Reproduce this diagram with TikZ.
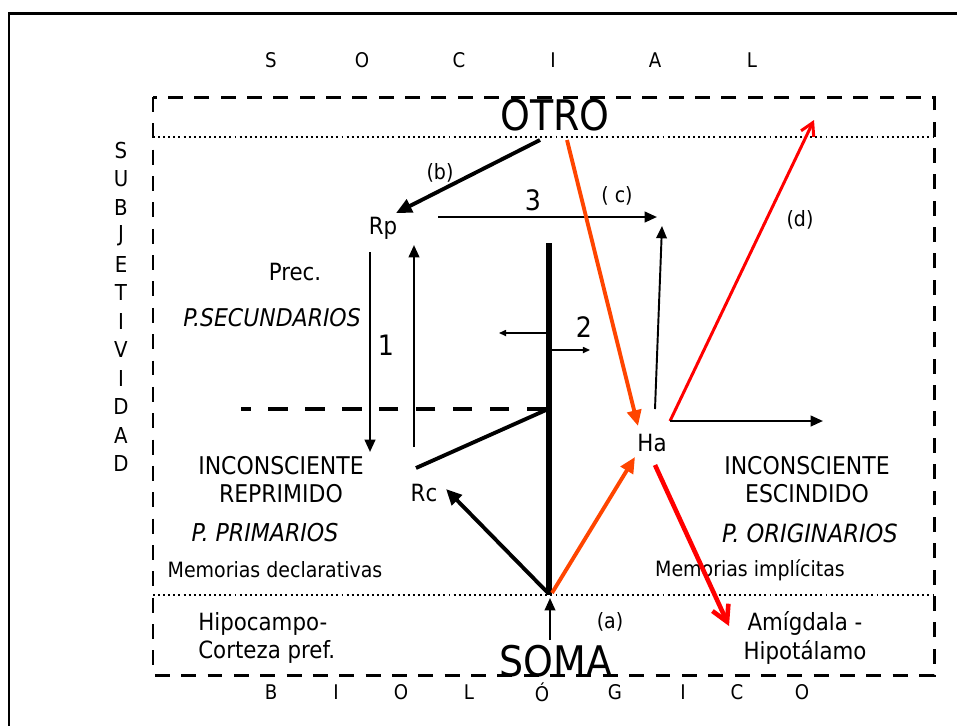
\documentclass[tikz,border=0pt]{standalone}
\usepackage{fontspec}
\setmainfont{DejaVu Sans Condensed}
\usetikzlibrary{arrows.meta}
\definecolor{naranja}{RGB}{255,69,0}
\definecolor{rojo}{RGB}{255,0,0}

\begin{document}
\begin{tikzpicture}[x=0.02cm,y=-0.02cm,
    texto/.style={inner sep=0pt, font=\fontsize{13.9}{16}\selectfont, align=center},
    chico/.style={inner sep=0pt, font=\fontsize{12}{14}\selectfont},
    medio/.style={inner sep=0pt, font=\fontsize{13.5}{16}\selectfont},
    letra/.style={inner sep=0pt, font=\fontsize{11.5}{13}\selectfont},
    grande/.style={inner sep=0pt, font=\fontsize{24}{28}\selectfont},
    numero/.style={inner sep=0pt, font=\fontsize{16}{18}\selectfont},
    flecha/.style={-{Triangle[length=7pt,width=6pt]}, line width=1.3pt},
    gruesa/.style={-{Triangle[length=9pt,width=8pt]}, line width=2.2pt},
    fina/.style={-{Triangle[length=4pt,width=3.5pt]}, line width=0.7pt},
    punteada/.style={line width=1.2pt, dash pattern=on 1.1pt off 1.8pt}]
    \useasboundingbox (0,0) rectangle (957,725);
    % marco exterior
    \draw[line width=1.7pt] (9,727) -- (9,13) -- (960,13);
    % zonas
    \draw[line width=1.7pt, dash pattern=on 8.5pt off 6.5pt] (153,97) rectangle (934,675);
    \draw[punteada] (153,137) -- (934,137);
    \draw[punteada] (153,595) -- (934,595);

    % letras espaciadas
    \foreach \l/\x in {S/271,O/362,C/459,I/553,A/655,L/752}
        \node[letra] (soc\x) at (\x,60) {\l};
    \foreach \l/\x in {B/271,I/336,O/401,L/469,Ó/542,G/615,I/683,C/737,O/802}
        \node[letra] (bio\x) at (\x,692) {\l};
    \foreach \l [count=\i from 0] in {S,U,B,J,E,T,I,V,I,D,A,D}
        \node[letra, font=\fontsize{12.5}{14}\selectfont] (sub\i) at (121,150+28.5*\i) {\l};

    % nodos
    \node[grande] (otro) at (555,115) {OTRO};
    \node[grande] (soma) at (556,661) {SOMA};
    \node[medio] (rp) at (383,228) {Rp};
    \node[medio] (rc) at (424,493) {Rc};
    \node[medio] (ha) at (652,443) {Ha};
    \node[chico] (lb) at (440,173) {(b)};
    \node[chico] (lc) at (617,196) {( c)};
    \node[chico] (ld) at (800,220) {(d)};
    \node[chico] (la) at (610,622) {(a)};
    \node[numero] (n1) at (386,345) {1};
    \node[numero] (n2) at (584,327) {2};
    \node[numero] (n3) at (533,200) {3};
    \node[medio] (prec) at (295,272) {Prec.};
    \node[texto, font=\fontsize{13.9}{16}\itshape] (psec) at (272,318) {P.SECUNDARIOS};
    \node[texto] (increp) at (281,480) {INCONSCIENTE\\REPRIMIDO};
    \node[texto, font=\fontsize{14}{16}\itshape] (pprim) at (265,533) {P. PRIMARIOS};
    \node[chico] (memdec) at (275,570) {Memorias declarativas};
    \node[texto] (incesc) at (807,480) {INCONSCIENTE\\ESCINDIDO};
    \node[texto, font=\fontsize{14.3}{16}\itshape] (porig) at (810,533) {P. ORIGINARIOS};
    \node[chico] (memimp) at (750,570) {Memorias implícitas};
    \node[medio, align=left, anchor=west] (hipo) at (198,638) {Hipocampo-\\Corteza pref.};
    \node[medio, align=center] (amig) at (805,638) {Amígdala -\\Hipotálamo};

    % extremos de las flechas
    \coordinate (otroB) at (540,140);
    \coordinate (otroC) at (567,140);
    \coordinate (rpT) at (396,213);
    \coordinate (tresA) at (438,217);
    \coordinate (tresB) at (657,217);
    \coordinate (bajaA) at (370,252);
    \coordinate (bajaB) at (370,452);
    \coordinate (subeA) at (414,447);
    \coordinate (subeB) at (414,245);
    \coordinate (barraA) at (549,243);
    \coordinate (barraB) at (549,595);
    \coordinate (izqA) at (546,333);
    \coordinate (izqB) at (499,333);
    \coordinate (derA) at (552,350);
    \coordinate (derB) at (590,350);
    \coordinate (corteA) at (241,409);
    \coordinate (corteB) at (546,409);
    \coordinate (rcA) at (416,468);
    \coordinate (rcB) at (546,410);
    \coordinate (rcT) at (446,489);
    \coordinate (haT) at (638,426);
    \coordinate (haS) at (635,457);
    \coordinate (haA) at (655,409);
    \coordinate (haB) at (662,226);
    \coordinate (haC) at (670,421);
    \coordinate (haD) at (814,120);
    \coordinate (haE) at (823,421);
    \coordinate (haF) at (655,465);
    \coordinate (amigT) at (729,626);
    \coordinate (somaA) at (550,640);
    \coordinate (somaB) at (550,598);
    \coordinate (somaC) at (548,593);
    \coordinate (somaD) at (552,593);

    % conexiones
    \draw[gruesa] (otroB) -- (rpT);
    \draw[flecha] (tresA) -- (tresB);
    \draw[flecha] (bajaA) -- (bajaB);
    \draw[flecha] (subeA) -- (subeB);
    \draw[line width=3.4pt] (barraA) -- (barraB);
    \draw[fina] (izqA) -- (izqB);
    \draw[fina] (derA) -- (derB);
    \draw[line width=2.3pt, dash pattern=on 11pt off 10pt] (corteB) -- (corteA);
    \draw[line width=2.2pt] (rcA) -- (rcB);
    \draw[gruesa] (somaC) -- (rcT);
    \draw[gruesa, naranja] (somaD) -- (haS);
    \draw[gruesa, naranja] (otroC) -- (haT);
    \draw[flecha, line width=1.1pt] (haA) -- (haB);
    \draw[rojo, line width=1.7pt, -{Straight Barb[length=7pt,width=8pt]}] (haC) -- (haD);
    \draw[flecha] (haC) -- (haE);
    \draw[rojo, line width=2.6pt, -{Straight Barb[length=9pt,width=10pt]}] (haF) -- (amigT);
    \draw[flecha, line width=1.1pt] (somaA) -- (somaB);
\end{tikzpicture}
\end{document}
